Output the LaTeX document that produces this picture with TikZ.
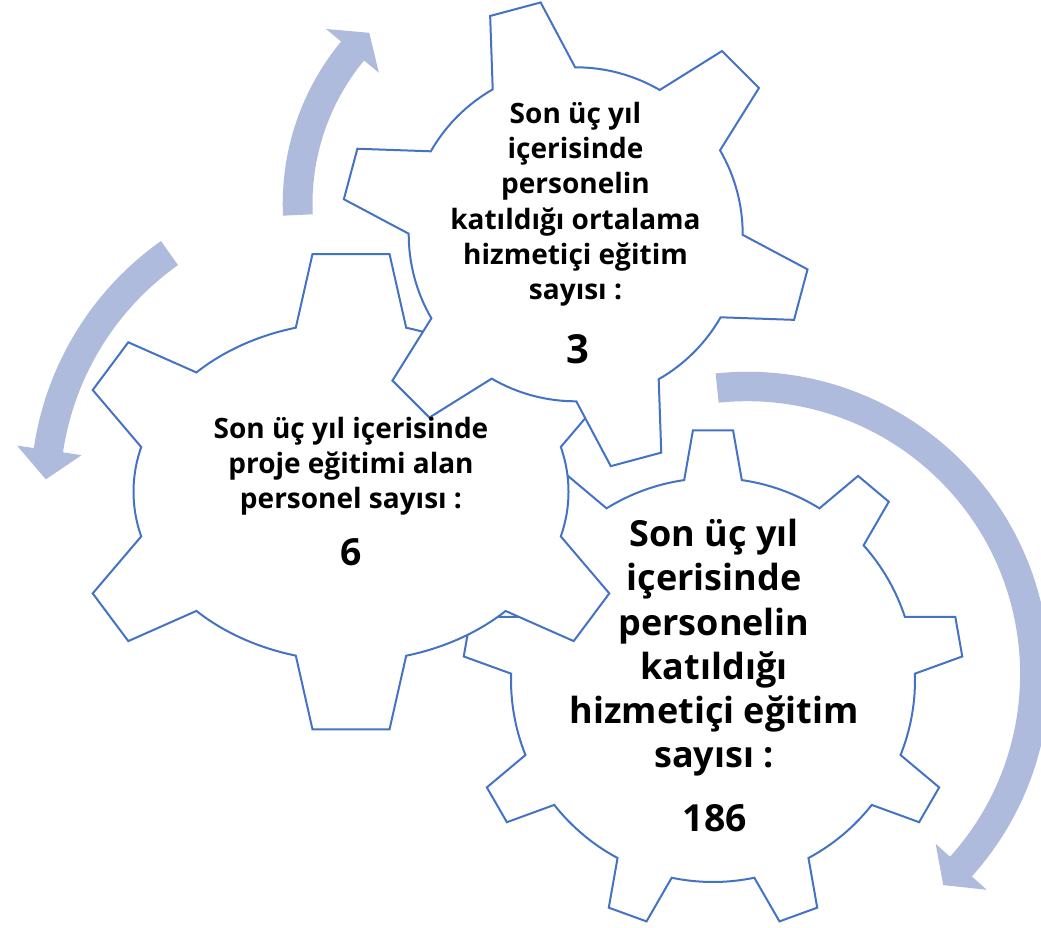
\documentclass[tikz,border=0pt]{standalone}
\usepackage{fontspec}
\setmainfont{Open Sans}
\definecolor{gearblue}{RGB}{68,114,196}
\definecolor{arrowc}{RGB}{174,187,221}
\tikzset{
  gear/.style={draw=gearblue, fill=white, line width=1.5pt, line join=miter},
  circarrow/.style={fill=arrowc, draw=none},
  lbl/.style={inner sep=0pt, anchor=base, text=black},
}
\begin{document}
\begin{tikzpicture}[x=0.75pt,y=0.75pt]
\useasboundingbox (0,0) rectangle (1041,-927);
\clip (0,0) rectangle (1041,-927);

% ---------- circular arrows ----------
\begin{scope}[shift={(537.2,-203.7)}]
  \fill[circarrow] (182.7:254.5) arc[start angle=182.7, end angle=140.4, radius=254.5]
    -- (140.4:274.1) -- (134.5:239.6) -- (140.4:205.5) -- (140.4:224.7)
    arc[start angle=140.4, end angle=182.7, radius=224.7] -- cycle;
\end{scope}
\begin{scope}[shift={(339.5,-493.2)}]
  \fill[circarrow] (125.3:309) arc[start angle=125.3, end angle=171.6, radius=309]
    -- (171.6:326) -- (177.3:294) -- (171.6:260.7) -- (171.6:279.5)
    arc[start angle=171.6, end angle=125.3, radius=279.5] -- cycle;
\end{scope}
\begin{scope}[shift={(747.2,-674.1)}]
  \fill[circarrow] (96:302.3) arc[start angle=96, end angle=-42, radius=302.3]
    -- (-42:322.3) -- (-47.1:288) -- (-42:253.6) -- (-42:272.9)
    arc[start angle=-42, end angle=96, radius=272.9] -- cycle;
\end{scope}

% ---------- bottom-right gear (9 teeth) ----------
\begin{scope}[shift={(713,-680)}]
  \draw[gear] (81.8:202)
    \foreach \k in {0,...,8} {
      -- ({90+40*\k-4.6}:250.4) -- ({90+40*\k+4.6}:250.4) -- ({90+40*\k+8.2}:202)
      arc[start angle={90+40*\k+8.2}, end angle={130+40*\k-8.2}, radius=202]
    } -- cycle;
\end{scope}

% ---------- left gear (6 teeth, wide) ----------
\begin{scope}[shift={(351,-491.7)}]
  \draw[gear] (209.8,-44.7)
    arc[start angle=-15.3, end angle=15.3, x radius=217.5, y radius=169.5]
    -- (258.3,101.7) -- (222.7,149.4) -- (154.6,119.2)
    arc[start angle=44.7, end angle=75.3, x radius=217.5, y radius=169.5]
    -- (38.5,237.7) -- (-38.5,237.7) -- (-55.2,164)
    arc[start angle=104.7, end angle=135.3, x radius=217.5, y radius=169.5]
    -- (-222.7,149.4) -- (-258.3,101.7) -- (-209.8,44.7)
    arc[start angle=164.7, end angle=195.3, x radius=217.5, y radius=169.5]
    -- (-258.3,-101.7) -- (-222.7,-149.4) -- (-154.6,-119.2)
    arc[start angle=224.7, end angle=255.3, x radius=217.5, y radius=169.5]
    -- (-38.5,-237.7) -- (38.5,-237.7) -- (55.2,-164)
    arc[start angle=284.7, end angle=315.3, x radius=217.5, y radius=169.5]
    -- (222.7,-149.4) -- (258.3,-101.7) -- cycle;
\end{scope}

% ---------- top gear (6 teeth, rotated) ----------
\begin{scope}[shift={(575.7,-234.3)}]
  \draw[gear] (90.2:167)
    \foreach \k in {0,...,5} {
      -- ({105+60*\k-6.4}:234.5) -- ({105+60*\k+6.4}:234.5) -- ({105+60*\k+14.8}:167)
      arc[start angle={105+60*\k+14.8}, end angle={165+60*\k-14.8}, radius=167]
    } -- cycle;
\end{scope}

% ---------- texts ----------
\node[lbl] (toptext) at (575.5,-123.3) {\parbox[t]{260pt}{\centering\fontsize{21pt}{26.5pt}\selectfont\bfseries
  Son üç yıl\\içerisinde\\personelin\\katıldığı ortalama\\hizmetiçi eğitim\\sayısı :}};
\node[lbl] (topnum) at (578,-363.3) {\fontsize{30pt}{30pt}\selectfont\bfseries 3};

\node[lbl] (lefttext) at (351,-438.3) {\parbox[t]{260pt}{\centering\fontsize{21pt}{26.25pt}\selectfont\bfseries
  Son üç yıl içerisinde\\proje eğitimi alan\\personel sayısı :}};
\node[lbl] (leftnum) at (351,-565) {\fontsize{28pt}{28pt}\selectfont\bfseries 6};

\node[lbl] (brtext) at (714,-546.6) {\parbox[t]{300pt}{\centering\fontsize{27pt}{33.2pt}\selectfont\bfseries
  Son üç yıl\\içerisinde\\personelin\\katıldığı\\hizmetiçi eğitim\\sayısı :}};
\node[lbl] (brnum) at (714.8,-831.1) {\fontsize{28pt}{28pt}\selectfont\bfseries 186};
\end{tikzpicture}
\end{document}
